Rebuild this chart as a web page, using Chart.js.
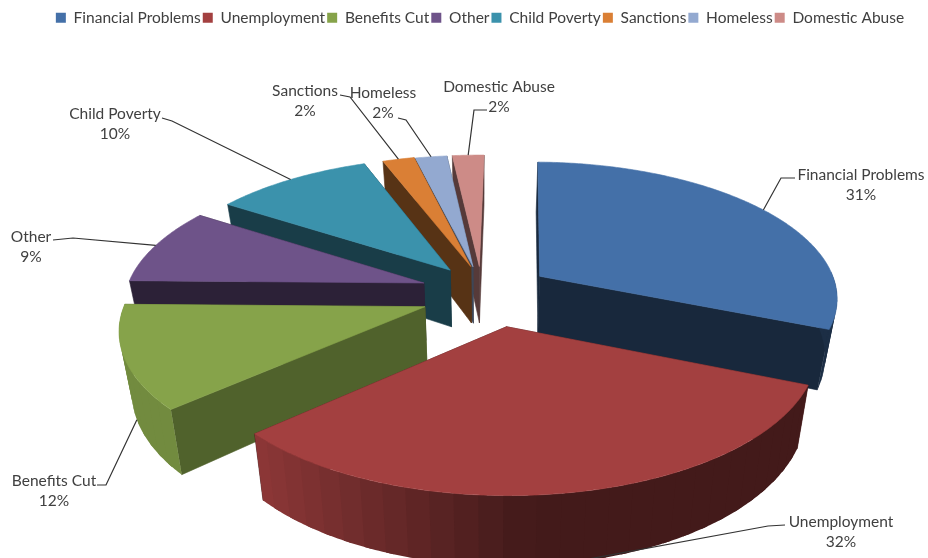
<!DOCTYPE html>
<html>
<head>
<meta charset="utf-8">
<style>html,body{margin:0;padding:0;background:#fff}#wrap{width:928px;height:558px;position:relative}</style>
<script src="https://cdn.jsdelivr.net/npm/chart.js@4"></script>
</head>
<body>
<div id="wrap"><canvas id="c" width="928" height="558"></canvas></div>
<script>
const categories = ['Financial Problems','Unemployment','Benefits Cut','Other','Child Poverty','Sanctions','Homeless','Domestic Abuse'];
const percentValues = [31,32,12,9,10,2,2,2];
const topColors = ['#4470A8','#A34040','#86A34A','#6E5389','#3B92AC','#DA7F35','#93A9D0','#CD8B87'];
const wallShade = [0.36,0.42,0.6,0.4,0.42,0.4,0.42,0.42];

// label placement (text centre x, first line centre y, leader elbow start/end)
const labelCentreX = [861,841,54,31,115,305,383,499];
const labelLineY = [175,522,481,237,114,91,93,87];
const leaderStart = [[795,178],[785,525],[97,485],[53,240],[162,118],[340,95],[398,118],[487,110]];
const leaderElbow = [[781,178],[768,526],[106,485],[73,238],[172,121],[350,97],[406,120],[474,110]];
// small per-slice shift of the exploded pieces, in pixels
const sliceShiftX = [3,9,-5,-6,0,1,-4,-5];
const sliceShiftY = [-4,4,2,-4,-4,-3,-2,-2];

// oblique perspective used to lay the flat pie down
const VIEW = {cx:487, cy:295, rx:298, ry:135, persp:0.147, depth:58, taper:0.035};
const FONT = 'Lato, sans-serif';
const FONT_SIZE = 15.5;
const TEXT = '#404040';

function project(u,v,z){
  const s = 1/(1-VIEW.persp*v);
  return [VIEW.cx + VIEW.rx*u*s*(1-VIEW.taper*z), VIEW.cy + VIEW.ry*v*s + VIEW.depth*z*s];
}
function shade(hex,f){
  const n=parseInt(hex.slice(1),16);
  return `rgb(${Math.round((n>>16&255)*f)},${Math.round((n>>8&255)*f)},${Math.round((n&255)*f)})`;
}
function geometry(arc,i){
  const R=arc.outerRadius, off=(arc.options.offset||0)/R;
  const mid=(arc.startAngle+arc.endAngle)/2;
  const ox=Math.cos(mid)*off, oy=Math.sin(mid)*off;
  const shift=p=>[p[0]+sliceShiftX[i],p[1]+sliceShiftY[i]];
  return {ox,oy,mid,a0:arc.startAngle,a1:arc.endAngle,
    at:(a,z)=>shift(project(ox+Math.cos(a),oy+Math.sin(a),z)),
    apex:z=>shift(project(ox,oy,z))};
}
function poly(ctx,pts,fill,stroke){
  ctx.beginPath();
  pts.forEach((p,i)=>i?ctx.lineTo(p[0],p[1]):ctx.moveTo(p[0],p[1]));
  ctx.closePath();
  ctx.fillStyle=fill;ctx.fill();
  if(stroke){ctx.strokeStyle=fill;ctx.lineWidth=0.6;ctx.stroke();}
}
function rimShade(u){
  if(u<=-0.7) return 0.85;
  if(u>=0.05) return 0.41;
  return 0.41+(0.05-u)/0.75*0.44;
}

const pie3d = {
  id:'pie3d',
  beforeDatasetDraw(chart,args){
    const ctx=chart.ctx, arcs=args.meta.data.slice();
    const order=arcs.map((a,i)=>({a,i,g:geometry(a,i)})).sort((p,q)=>p.g.oy-q.g.oy);
    ctx.save();
    order.forEach(({a,i,g})=>{
      const col=topColors[i], wall=shade(col,wallShade[i]);
      const walls=[g.a0,g.a1].map(t=>({t,d:Math.sin(t)})).sort((p,q)=>p.d-q.d);
      walls.forEach(w=>poly(ctx,[g.apex(0),g.at(w.t,0),g.at(w.t,1),g.apex(1)],wall,true));
      const n=Math.max(1,Math.ceil((g.a1-g.a0)/0.07));
      const quads=[];
      for(let k=0;k<n;k++){
        const t0=g.a0+(g.a1-g.a0)*k/n, t1=g.a0+(g.a1-g.a0)*(k+1)/n;
        quads.push({t0,t1,m:(t0+t1)/2});
      }
      quads.filter(q=>Math.sin(q.m)>0).sort((p,q)=>Math.sin(p.m)-Math.sin(q.m)).forEach(q=>{
        const pts=[];
        const a=Math.max(g.a0,q.t0-0.012), b=Math.min(g.a1,q.t1+0.012);
        for(let k=0;k<=8;k++) pts.push(g.at(a+(b-a)*k/8,0));
        for(let k=8;k>=0;k--) pts.push(g.at(a+(b-a)*k/8,1));
        poly(ctx,pts,shade(col,rimShade(Math.cos(q.m))),false);
      });
      const top=[g.apex(0)];
      const steps=Math.max(4,Math.ceil((g.a1-g.a0)/0.01));
      for(let k=0;k<=steps;k++) top.push(g.at(g.a0+(g.a1-g.a0)*k/steps,0));
      poly(ctx,top,col,true);
    });
    ctx.restore();
    return false;
  },
  afterDatasetsDraw(chart){
    const ctx=chart.ctx, arcs=chart.getDatasetMeta(0).data;
    ctx.save();
    ctx.strokeStyle='#333';ctx.lineWidth=1.2;
    arcs.forEach((a,i)=>{
      const g=geometry(a,i);
      const z=Math.sin(g.mid)>0?1:0;
      const p=g.at(g.mid,z);
      ctx.beginPath();
      ctx.moveTo(leaderStart[i][0],leaderStart[i][1]);
      ctx.lineTo(leaderElbow[i][0],leaderElbow[i][1]);
      ctx.lineTo(p[0],p[1]);
      ctx.stroke();
    });
    ctx.fillStyle=TEXT;ctx.font=FONT_SIZE+'px '+FONT;ctx.textAlign='center';ctx.textBaseline='middle';
    categories.forEach((name,i)=>{
      ctx.fillText(name,labelCentreX[i],labelLineY[i]);
      ctx.fillText(percentValues[i]+'%',labelCentreX[i],labelLineY[i]+20);
    });
    ctx.restore();
  }
};

new Chart(document.getElementById('c'),{
  type:'pie',
  data:{labels:categories,datasets:[{data:percentValues,backgroundColor:topColors,borderWidth:0,offset:48}]},
  plugins:[pie3d],
  options:{
    responsive:false,animation:false,rotation:1,
    layout:{padding:{top:8,left:32}},
    plugins:{
      tooltip:{enabled:false},
      legend:{position:'top',labels:{boxWidth:10,boxHeight:10,padding:2,color:TEXT,font:{family:'Lato, sans-serif',size:FONT_SIZE}}}
    }
  }
});
</script>
</body>
</html>
